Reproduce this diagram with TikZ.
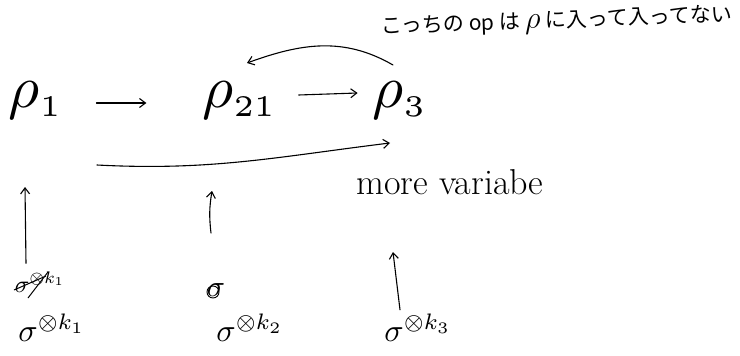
\documentclass[tikz,border=0pt]{standalone}
\usepackage{fontspec}
\newfontfamily\cjk{Noto Sans CJK JP}
\usetikzlibrary{arrows.meta,calc}
\begin{document}
\begin{tikzpicture}[x=1pt,y=-1pt,
  hand/.style={line width=1.1pt,line cap=round,-{Straight Barb[length=6pt,width=9pt]}},
  big/.style={inner sep=0pt,scale=6},
  mid/.style={inner sep=0pt,scale=2.4},
  bottom/.style={inner sep=0pt,scale=3.2}]
\useasboundingbox (0,0) rectangle (740,356);
% top row
\node[big] (r1) at (36,100) {$\rho_{\scriptscriptstyle 1}$};
\node[big] (r21) at (240,100) {$\rho_{\scriptscriptstyle 21}$};
\node[big] (r3) at (400,100) {$\rho_{\scriptscriptstyle 3}$};
\draw[hand] ($(r1.east)+(32,3)$) -- ($(r21.west)+(-55,3)$);
\draw[hand] ($(r21.east)+(20,-5)$) -- ($(r3.west)+(-14,-7)$);
% curved arrow back
\draw[hand] ($(r3.center)+(-7,-35)$) to[out=150,in=20] ($(r21.center)+(7,-37)$);
% note
\node[rotate=2,inner sep=0pt,font=\cjk\fontsize{21}{23}\selectfont] (note) at (557,22) {こっちの op は \scalebox{1.5}{$\rho$} に入って入ってない};
% long arrow
\coordinate (ls) at (97,165);
\draw[hand] (ls) to[out=-3,in=187] ($(r3.center)+(-10,43)$);
\node[inner sep=0pt,font=\fontsize{36}{38}\selectfont] (mv) at (450,182) {more variabe};
% middle row
\node[mid] (c1) at (40,282) {$\sigma^{\otimes k_1}$};
\draw[line width=1pt] ($(c1.center)+(-12,16)$) -- ($(c1.center)+(8,-10)$);
\draw[line width=1pt] ($(c1.center)+(-26,8)$) -- ($(c1.center)+(6,-6)$);
\node[inner sep=0pt,scale=3] (c2) at (216,290) {$\sigma$};
\draw[line width=0.9pt] ($(c2.center)+(-3,2)$) circle (6pt);
% bottom row
\node[bottom] (s1) at (52,328) {$\sigma^{\otimes k_1}$};
\node[bottom] (s2) at (250,328) {$\sigma^{\otimes k_2}$};
\node[bottom] (s3) at (418,328) {$\sigma^{\otimes k_3}$};
% vertical arrows
\coordinate (v1e) at (25,187);
\draw[hand] ($(c1.north)+(-14,-8)$) -- (v1e);
\coordinate (v2s) at (211,233);
\coordinate (v2e) at (212,191);
\draw[hand] (v2s) to[bend left=8] (v2e);
\coordinate (v3e) at (393,252);
\draw[hand] ($(s3.north)+(-18,-4)$) -- (v3e);
\end{tikzpicture}
\end{document}
